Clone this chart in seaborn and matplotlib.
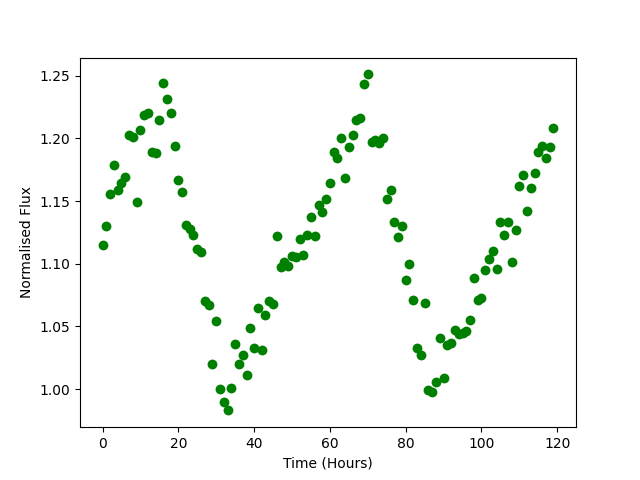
import numpy as np
import pandas as pd
import seaborn as sns
from matplotlib import pyplot as plt

hours = list(range(120))
flux = [
    1.115, 1.130, 1.156, 1.179, 1.159, 1.164, 1.169, 1.203, 1.201, 1.149,
    1.207, 1.219, 1.220, 1.189, 1.188, 1.215, 1.244, 1.231, 1.220, 1.194,
    1.167, 1.157, 1.131, 1.128, 1.123, 1.112, 1.109, 1.070, 1.067, 1.020,
    1.054, 1.000, 0.990, 0.983, 1.001, 1.036, 1.020, 1.027, 1.011, 1.049,
    1.033, 1.065, 1.031, 1.059, 1.070, 1.068, 1.122, 1.097, 1.101, 1.098,
    1.106, 1.105, 1.120, 1.107, 1.123, 1.137, 1.122, 1.147, 1.141, 1.152,
    1.164, 1.189, 1.184, 1.200, 1.168, 1.193, 1.203, 1.215, 1.216, 1.243,
    1.251, 1.197, 1.199, 1.196, 1.200, 1.152, 1.159, 1.133, 1.121, 1.130,
    1.087, 1.100, 1.071, 1.033, 1.027, 1.069, 0.999, 0.998, 1.006, 1.041,
    1.009, 1.035, 1.037, 1.047, 1.044, 1.045, 1.046, 1.055, 1.089, 1.071,
    1.073, 1.095, 1.104, 1.110, 1.096, 1.133, 1.123, 1.133, 1.101, 1.127,
    1.162, 1.171, 1.142, 1.160, 1.172, 1.189, 1.194, 1.184, 1.193, 1.208,
]

df = pd.DataFrame({'time': hours, 'flux': flux})

fig, ax = plt.subplots(figsize=(6.4, 4.8), dpi=100)
sns.scatterplot(data=df, x='time', y='flux', color='green', s=50,
                linewidth=0, ax=ax)
ax.set_xlabel('Time (Hours)')
ax.set_ylabel('Normalised Flux')

plt.savefig('out.png')
